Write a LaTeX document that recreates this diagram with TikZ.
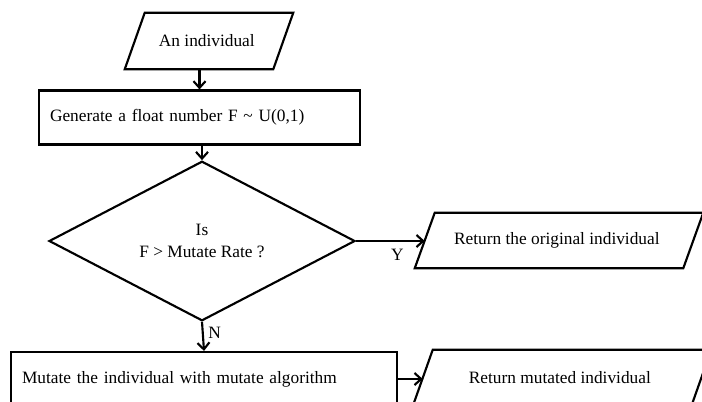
\documentclass[tikz,border=0pt]{standalone}
\usepackage{fontspec}
\setmainfont{Liberation Serif}
\usetikzlibrary{arrows.meta, positioning, shapes.geometric}

\begin{document}
\begin{tikzpicture}[
    x=0.75pt, y=-0.75pt,
    every node/.style={
        font=\fontsize{13pt}{15.5pt}\selectfont
    },
    iobox/.style={
        rectangle,
        minimum height=42pt,
        align=center,
        append after command={\pgfextra{
            \draw[line width=1.6pt]
                ([xshift=7.5pt]\tikzlastnode.north west) --
                ([xshift=7.5pt]\tikzlastnode.north east) --
                ([xshift=-7.5pt]\tikzlastnode.south east) --
                ([xshift=-7.5pt]\tikzlastnode.south west) -- cycle;
        }}
    },
    procbox/.style={
        draw,
        line width=1.6pt,
        rectangle,
        minimum height=40.5pt,
        inner xsep=8.25pt,
        align=left
    },
    decision/.style={
        draw,
        line width=1.6pt,
        diamond,
        minimum width=229.5pt,
        minimum height=114pt,
        inner sep=0pt,
        align=center
    },
    arrow/.style={-{Straight Barb[length=5pt, width=9pt]}, line width=1.6pt}
]

\clip (0,0) rectangle (702,401);

% ------------------------
% Input individual
% ------------------------
\node[iobox, minimum width=111pt] (input) at (209,41) {
An individual
};

% ------------------------
% Random number
% ------------------------
\node[procbox, text width=224.25pt] (gen) at (199.5,117.5) {
Generate a float number F \textasciitilde\ U(0,1)
};

% ------------------------
% Test against mutate rate
% ------------------------
\node[decision] (test) at (202,241) {
Is\\[1.5pt]
F > Mutate Rate ?
};

% ------------------------
% Outputs
% ------------------------
\node[iobox, minimum width=201pt, minimum height=41.25pt] (original) at (559,240.5) {
Return the original individual
};

\node[procbox, text width=273pt] (mutate) at (204,379) {
Mutate the individual with mutate algorithm
};

\node[iobox, minimum width=208.5pt] (mutated) at (562,378) {
Return mutated individual
};

% ------------------------
% Arrows
% ------------------------
\draw[arrow] (gen.north |- input.south) -- (gen.north);
\draw[arrow] (test.north |- gen.south) -- (test.north);
\draw[arrow] (test.east) -- (test.east -| original.west)
    node[pos=0.6, below=2pt] {Y};
\draw[arrow] (test.south) -- (mutate.north)
    node[pos=0.38, right] {N};
\draw[arrow] (mutate.east) -- (mutate.east -| mutated.west);

\end{tikzpicture}
\end{document}
